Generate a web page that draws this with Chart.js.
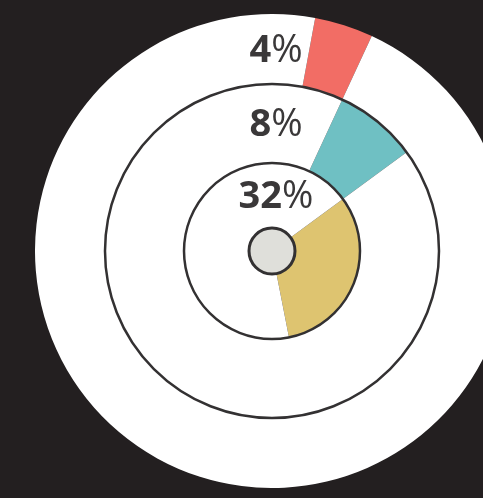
<!DOCTYPE html>
<html>
<head>
<meta charset="utf-8">
<script src="https://cdn.jsdelivr.net/npm/chart.js@4/dist/chart.umd.min.js"></script>
<style>
    html, body {
        margin: 0;
        padding: 0;
        width: 483px;
        height: 498px;
        overflow: hidden;
        background: #231f20;
    }
    #wrap {
        position: absolute;
        left: 35px;
        top: 14px;
        width: 474px;
        height: 474px;
    }
</style>
</head>
<body>
<div id="wrap"><canvas id="rings"></canvas></div>
<script>
// ===============================
// DATA
// ===============================
const ringLabels = ["Outer", "Middle", "Inner"];
const ringValues = [4, 8, 32];          // percent shown in each ring
const ringColors = ["#f26d65", "#6fc0c3", "#dec470"];
const ringWeights = [70, 79, 65];       // relative ring thickness
const startAngle = 10.5;                // degrees from 12 o'clock

// each ring starts where the previous one ended
function ringRotation(i) {
    let a = startAngle;
    for (let k = 0; k < i; k++) a += ringValues[k] * 3.6;
    return a;
}

const datasets = ringValues.map((v, i) => ({
    label: ringLabels[i],
    data: [v, 100 - v],
    backgroundColor: [ringColors[i], "#ffffff"],
    borderWidth: 0,
    weight: ringWeights[i],
    rotation: ringRotation(i)
}));

// ===============================
// OUTLINES, HUB AND LABELS
// ===============================
const ringDecor = {
    id: "ringDecor",
    afterDatasetsDraw(chart) {
        const ctx = chart.ctx;
        const metas = chart.data.datasets.map((d, i) => chart.getDatasetMeta(i));
        const arc0 = metas[0].data[0];
        const cx = arc0.x, cy = arc0.y;

        ctx.save();
        ctx.strokeStyle = "#333132";

        // circle lines between rings
        ctx.lineWidth = 2.5;
        for (let i = 1; i < metas.length; i++) {
            const r = metas[i].data[0].outerRadius;
            ctx.beginPath();
            ctx.arc(cx, cy, r, 0, Math.PI * 2);
            ctx.stroke();
        }

        // grey hub
        const hubR = metas[metas.length - 1].data[0].innerRadius;
        ctx.beginPath();
        ctx.arc(cx, cy, hubR, 0, Math.PI * 2);
        ctx.fillStyle = "#dfdfda";
        ctx.fill();
        ctx.lineWidth = 3;
        ctx.stroke();

        // percentage labels at the middle of each ring
        ctx.fillStyle = "#3a3839";
        ctx.textBaseline = "middle";
        ctx.textAlign = "left";
        metas.forEach((m, i) => {
            const a = m.data[0];
            const mid = (a.innerRadius + a.outerRadius) / 2;
            const num = String(ringValues[i]);
            ctx.font = "bold 38px 'Open Sans'";
            const wNum = ctx.measureText(num).width;
            ctx.font = "38px 'Open Sans'";
            const wPct = ctx.measureText("%").width;
            const x0 = cx + 4 - (wNum + wPct) / 2;
            const y0 = cy - mid + 2;
            ctx.font = "bold 38px 'Open Sans'";
            ctx.fillText(num, x0, y0);
            ctx.font = "38px 'Open Sans'";
            ctx.fillText("%", x0 + wNum, y0);
        });
        ctx.restore();
    }
};

// ===============================
// CHART
// ===============================
new Chart(document.getElementById("rings").getContext("2d"), {
    type: "doughnut",
    data: {
        labels: ["Share", "Rest"],
        datasets: datasets
    },
    options: {
        responsive: true,
        maintainAspectRatio: false,
        animation: false,
        cutout: 23,
        layout: { padding: 0 },
        plugins: {
            legend: { display: false },
            tooltip: { enabled: false }
        }
    },
    plugins: [ringDecor]
});
</script>
</body>
</html>
